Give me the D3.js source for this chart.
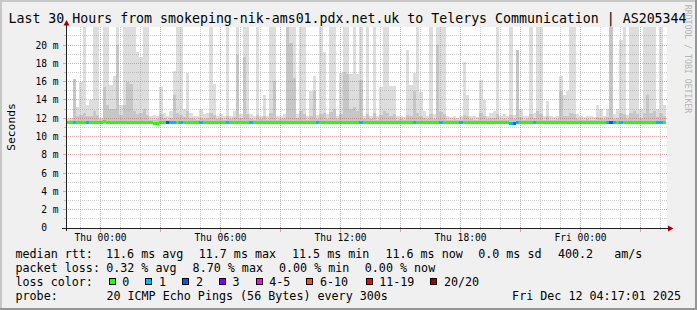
<!DOCTYPE html>
<html>
<head>
<meta charset="utf-8">
<script src="https://cdn.jsdelivr.net/npm/d3@7"></script>
<style>
  body { margin: 0; background: #f0f0f0; }
  svg text { font-family: "DejaVu Sans Mono", monospace; white-space: pre; }
</style>
</head>
<body>
<div id="chart"></div>
<script>
// smokeping graph, last 30 hours, 10 minute buckets (ms)
var titleText = "Last 30 Hours from smokeping-nik-ams01.pdx.net.uk to Telerys Communication | AS205344";
var endTime = new Date(Date.UTC(2025, 11, 12, 4, 17, 1));
var spanHours = 30;
var stepMinutes = 10;

var medianRtt = [
  11.6,11.6,11.6,11.6,11.6,11.6,11.6,11.6,11.6,11.6, 11.6,11.7,11.6,11.6,11.6,11.6,11.6,11.6,11.6,11.6,
  11.6,11.6,11.6,11.6,11.6,11.6,11.5,11.5,11.6,11.6, 11.6,11.6,11.6,11.6,11.6,11.6,11.6,11.6,11.6,11.6,
  11.6,11.6,11.6,11.6,11.6,11.6,11.6,11.6,11.6,11.6, 11.6,11.6,11.6,11.6,11.6,11.6,11.6,11.6,11.6,11.6,
  11.6,11.6,11.6,11.6,11.6,11.6,11.6,11.6,11.6,11.6, 11.6,11.6,11.6,11.6,11.6,11.6,11.6,11.6,11.6,11.6,
  11.6,11.6,11.6,11.6,11.6,11.6,11.6,11.6,11.6,11.6, 11.6,11.6,11.6,11.6,11.6,11.6,11.6,11.6,11.6,11.6,
  11.6,11.6,11.6,11.6,11.6,11.6,11.6,11.6,11.6,11.6, 11.6,11.6,11.6,11.6,11.6,11.6,11.6,11.6,11.6,11.6,
  11.6,11.6,11.6,11.6,11.6,11.6,11.6,11.6,11.6,11.6, 11.6,11.6,11.6,11.5,11.5,11.6,11.6,11.6,11.6,11.6,
  11.6,11.6,11.6,11.6,11.6,11.6,11.6,11.6,11.6,11.6, 11.6,11.6,11.6,11.6,11.6,11.6,11.6,11.6,11.6,11.6,
  11.6,11.6,11.6,11.6,11.6,11.6,11.6,11.6,11.6,11.6, 11.6,11.6,11.6,11.6,11.6,11.6,11.6,11.6,11.6,11.6
];
// outer smoke (slowest ping), 24 = off the top
var smokeMax = [
  11.9,12.0,16.3,13.2,16.0,24,13.4,14.0,24,24, 12.0,24,24,15.6,16.6,24,13.4,24,24,24,
  24,19.2,18.7,24,24,12.2,12.4,12.3,15.4,12.6, 12.2,12.8,17.2,24,24,13.0,17.0,12.6,12.3,12.2,
  13.0,12.5,12.6,24,15.7,12.3,12.5,12.2,24,12.3, 12.8,24,12.5,24,24,12.5,12.3,24,12.3,14.5,
  12.2,24,24,12.2,12.3,12.5,24,24,24,12.5, 24,24,12.2,15.0,16.6,12.4,24,19.3,12.5,24,
  24,12.3,17.0,24,24,16.8,24,16.8,24,12.3, 24,12.3,24,12.2,15.4,24,24,15.5,15.5,12.2,
  12.3,12.1,19.5,15.6,17.0,24,14.9,12.8,12.3,24, 12.5,24,24,24,12.2,12.1,12.3,12.0,12.2,18.2,
  14.5,12.3,12.2,12.1,16.2,14.0,12.3,12.6,12.8,24, 12.2,12.5,12.2,24,12.4,19.5,13.0,12.2,12.3,24,
  12.6,24,24,12.2,13.9,12.2,12.1,12.3,16.6,14.5, 15.0,24,24,12.5,12.2,12.1,12.3,12.2,12.1,13.4,
  13.0,12.3,13.0,24,12.5,13.0,20.6,24,12.4,24, 24,24,13.0,24,24,24,24,13.0,24,13.5
];
// inner smoke (middle pings)
var smokeMid = [
  11.7,11.8,16.3,12.2,12.4,12.6,12.2,12.3,12.8,12.4, 11.8,15.4,13.5,13.0,13.0,20.0,12.4,13.4,16.0,15.7,
  12.8,12.5,12.6,13.0,12.4,11.8,11.8,11.9,12.5,12.0, 11.8,12.0,14.5,12.6,12.4,12.1,12.8,12.0,11.9,11.8,
  12.0,11.9,12.0,12.6,12.4,11.9,12.0,11.8,12.3,11.9, 12.1,18.9,12.0,18.7,12.5,11.9,11.8,12.4,11.9,12.3,
  11.8,12.6,16.1,11.8,11.9,12.0,24,20.2,16.4,12.0, 12.8,12.5,11.8,12.3,15.0,11.9,12.5,12.6,11.9,12.7,
  13.0,11.9,12.5,17.1,16.8,13.0,13.2,12.8,16.2,11.9, 12.5,11.9,12.6,11.8,12.4,12.8,12.6,12.3,12.5,11.8,
  11.9,11.8,12.4,12.3,15.0,12.6,12.2,12.0,11.9,12.5, 11.9,20.0,12.7,12.5,11.8,11.8,11.9,11.8,11.8,12.4,
  12.2,11.9,11.8,11.8,12.6,12.2,11.9,12.0,12.0,12.5, 11.8,11.9,11.8,12.4,11.9,19.5,12.1,11.8,11.9,12.5,
  12.0,12.8,12.5,11.8,12.2,11.8,11.8,11.9,15.0,12.2, 12.3,12.6,12.5,11.9,11.8,11.8,11.9,11.8,11.8,12.1,
  12.0,11.9,12.1,24,11.9,12.0,12.6,12.5,11.9,12.6, 12.8,12.5,12.0,12.6,14.5,12.6,12.8,12.1,12.6,12.2
];
// lost pings out of 20
var lossCount = [
  0,0,1,0,0,0,1,0,0,0, 0,0,0,0,0,0,0,0,0,0,
  0,0,0,0,0,0,0,0,0,0, 2,1,1,0,1,0,0,0,0,0,
  1,0,0,0,0,0,0,0,1,0, 0,0,0,0,0,1,0,0,0,0,
  0,0,0,0,0,0,0,0,0,0, 0,0,0,0,0,1,0,0,0,0,
  0,0,0,0,0,0,0,0,1,0, 0,0,0,0,0,0,0,0,0,0,
  0,0,0,0,1,0,0,0,0,0, 0,0,1,0,0,0,0,0,1,0,
  0,0,0,0,0,0,0,0,0,0, 0,0,0,1,2,1,0,0,0,0,
  1,0,0,0,0,0,0,0,0,0, 0,0,0,0,0,0,0,0,0,0,
  0,0,1,2,1,0,1,0,0,0, 0,0,0,0,0,0,0,1,1,0
];
var lossLabels = ["0", "1", "2", "3", "4-5", "6-10", "11-19", "20/20"];
var lossColors = ["#26ff00", "#00b8ff", "#0059ff", "#7e00ff", "#ff00ff", "#ff5500", "#ff0000", "#a10000"];
var rttStats = ["11.6 ms avg", "11.7 ms max", "11.5 ms min", "11.6 ms now", "0.0 ms sd", "400.2   am/s"];
var lossStats = ["0.32 % avg", "8.70 % max", "0.00 % min", "0.00 % now"];
var probeText = "20 ICMP Echo Pings (56 Bytes) every 300s";
var stampText = "Fri Dec 12 04:17:01 2025";

var width = 697, height = 310;
var plotLeft = 66, plotRight = 666, plotTop = 27, plotBottom = 228;

var svg = d3.select("#chart").append("svg")
  .attr("width", width)
  .attr("height", height);

// background + frame
svg.append("rect").attr("width", width).attr("height", height).attr("fill", "#f0f0f0");
svg.append("rect").attr("x", 0).attr("y", 0).attr("width", width).attr("height", 2).attr("fill", "#c8c8c8");
svg.append("rect").attr("x", 0).attr("y", 0).attr("width", 2).attr("height", height).attr("fill", "#c8c8c8");
svg.append("rect").attr("x", 0).attr("y", height - 2).attr("width", width).attr("height", 2).attr("fill", "#969696");
svg.append("rect").attr("x", width - 2).attr("y", 0).attr("width", 2).attr("height", height).attr("fill", "#969696");

var startTime = new Date(+endTime - spanHours * 3600e3);
var x = d3.scaleUtc().domain([startTime, endTime]).range([plotLeft, plotRight]);
var y = d3.scaleLinear().domain([0, 21.87]).range([plotBottom, 28]);

svg.append("rect").attr("x", plotLeft).attr("y", plotTop)
  .attr("width", plotRight - plotLeft + 1).attr("height", plotBottom - plotTop)
  .attr("fill", "#ffffff");

svg.append("clipPath").attr("id", "plotclip")
  .append("rect").attr("x", plotLeft).attr("y", plotTop)
  .attr("width", plotRight - plotLeft + 1).attr("height", plotBottom - plotTop);

var samples = medianRtt.map(function (m, i) {
  return {
    t0: d3.utcMinute.offset(startTime, i * stepMinutes),
    t1: d3.utcMinute.offset(startTime, (i + 1) * stepMinutes),
    med: m, hi: smokeMax[i], mid: smokeMid[i], loss: lossCount[i]
  };
});

function lossClass(n) {
  if (n <= 3) return n;
  if (n <= 5) return 4;
  if (n <= 10) return 5;
  if (n < 20) return 6;
  return 7;
}

var plot = svg.append("g").attr("clip-path", "url(#plotclip)").attr("shape-rendering", "crispEdges");

plot.selectAll(".smoke").data(samples).enter().append("rect")
  .attr("class", "smoke")
  .attr("x", d => x(d.t0))
  .attr("width", d => x(d.t1) - x(d.t0))
  .attr("y", d => y(d.hi))
  .attr("height", d => Math.max(0, y(d.med) - y(d.hi)))
  .attr("fill", "#dddddd");

plot.selectAll(".smoke2").data(samples).enter().append("rect")
  .attr("class", "smoke2")
  .attr("x", d => x(d.t0))
  .attr("width", d => x(d.t1) - x(d.t0))
  .attr("y", d => y(d.mid))
  .attr("height", d => Math.max(0, y(d.med) - y(d.mid)))
  .attr("fill", "#c6c6c6");

plot.selectAll(".median").data(samples).enter().append("rect")
  .attr("class", "median")
  .attr("x", d => x(d.t0))
  .attr("width", d => x(d.t1) - x(d.t0))
  .attr("y", d => y(d.med) - 0.9)
  .attr("height", 2.6)
  .attr("fill", d => lossColors[lossClass(d.loss)]);

// grid
var minorCol = "rgba(140,140,140,0.42)";
var majorCol = "rgba(222,80,80,0.5)";
var grid = svg.append("g").attr("shape-rendering", "crispEdges");

var hours = x.ticks(d3.utcHour.every(1));
grid.selectAll(".vgrid").data(hours).enter().append("line")
  .attr("x1", d => Math.floor(x(d)) + 0.5).attr("x2", d => Math.floor(x(d)) + 0.5)
  .attr("y1", plotTop).attr("y2", plotBottom)
  .attr("stroke", d => d.getUTCHours() % 3 === 0 ? majorCol : minorCol)
  .attr("stroke-dasharray", "1,1");
grid.selectAll(".vtick").data(hours).enter().append("line")
  .attr("x1", d => Math.floor(x(d)) + 0.5).attr("x2", d => Math.floor(x(d)) + 0.5)
  .attr("y1", plotBottom - 1).attr("y2", d => d.getUTCHours() % 3 === 0 ? plotBottom + 4 : plotBottom + 2)
  .attr("stroke", d => d.getUTCHours() % 3 === 0 ? majorCol : minorCol);

var yTicks = y.ticks(22).filter(v => v > 0);
grid.selectAll(".hgrid").data(yTicks).enter().append("line")
  .attr("x1", plotLeft).attr("x2", plotRight + 1)
  .attr("y1", d => Math.floor(y(d)) + 0.5).attr("y2", d => Math.floor(y(d)) + 0.5)
  .attr("stroke", d => d % 2 === 0 ? majorCol : minorCol)
  .attr("stroke-dasharray", "1,1");
grid.selectAll(".htick").data(yTicks).enter().append("line")
  .attr("x1", d => d % 2 === 0 ? plotLeft - 3 : plotLeft - 2).attr("x2", plotLeft + 1)
  .attr("y1", d => Math.floor(y(d)) + 0.5).attr("y2", d => Math.floor(y(d)) + 0.5)
  .attr("stroke", d => d % 2 === 0 ? majorCol : minorCol);

// axes
var axisCol = "#202020", arrowCol = "#a00000";
svg.append("line").attr("x1", plotLeft - 4).attr("x2", plotRight + 4)
  .attr("y1", plotBottom + 0.5).attr("y2", plotBottom + 0.5)
  .attr("stroke", axisCol).attr("shape-rendering", "crispEdges");
svg.append("line").attr("x1", plotLeft + 0.5).attr("x2", plotLeft + 0.5)
  .attr("y1", plotBottom + 3).attr("y2", 24)
  .attr("stroke", axisCol).attr("shape-rendering", "crispEdges");
svg.append("path").attr("d", "M668,225.5 L673.5,228.5 L668,231.5 Z").attr("fill", arrowCol);
svg.append("path").attr("d", "M63.5,25.5 L66.5,20 L69.5,25.5 Z").attr("fill", arrowCol);

// axis labels
var labelSize = "9.6px";
svg.selectAll(".ylab").data(y.ticks(22).filter(v => v % 2 === 0)).enter().append("text")
  .attr("x", 58.5).attr("y", d => y(d) + 3.4)
  .attr("text-anchor", "end")
  .style("font-size", labelSize)
  .text(d => d === 0 ? "0  " : d + " m");

svg.selectAll(".xlab").data(hours.filter(d => d.getUTCHours() % 6 === 0)).enter().append("text")
  .attr("x", d => Math.floor(x(d)) + 0.5).attr("y", 240.7)
  .attr("text-anchor", "middle")
  .style("font-size", labelSize)
  .text(d => d3.utcFormat("%a %H:%M")(d));

svg.append("text")
  .attr("transform", "translate(15.3,127) rotate(-90)")
  .attr("text-anchor", "middle")
  .style("font-size", "11.3px")
  .text("Seconds");

svg.append("text")
  .attr("x", 347.5).attr("y", 23.3)
  .attr("text-anchor", "middle")
  .style("font-size", "13.25px")
  .text(titleText);

svg.append("text")
  .attr("transform", "translate(685,59) rotate(90)")
  .attr("text-anchor", "middle")
  .style("font-size", "8.2px")
  .attr("fill", "#b4b4b4")
  .text("RRDTOOL / TOBI OETIKER");

// legend
var legSize = "11.7px";
var legend = svg.append("g").style("font-size", legSize);
var rttX = [106, 198.7, 292, 385.4, 478.2, 557.9];
var lossX = [106.2, 192.6, 279, 364.8];
var boxX = [109, 145.7, 182.7, 219.3, 256, 306.7, 366, 430.7];

legend.append("text").attr("x", 15.5).attr("y", 257.8).text("median rtt:");
legend.selectAll(".rtt").data(rttStats).enter().append("text")
  .attr("x", (d, i) => rttX[i]).attr("y", 257.8).text(d => d);

legend.append("text").attr("x", 15.5).attr("y", 271.8).text("packet loss:");
legend.selectAll(".ls").data(lossStats).enter().append("text")
  .attr("x", (d, i) => lossX[i]).attr("y", 271.8).text(d => d);

legend.append("text").attr("x", 15.5).attr("y", 285.9).text("loss color:");
legend.selectAll(".lbox").data(lossLabels).enter().append("rect")
  .attr("x", (d, i) => Math.floor(boxX[i]) + 0.5).attr("y", 278.5)
  .attr("width", 6).attr("height", 6)
  .attr("fill", (d, i) => lossColors[i])
  .attr("stroke", "#000").attr("shape-rendering", "crispEdges");
legend.selectAll(".llab").data(lossLabels).enter().append("text")
  .attr("x", (d, i) => boxX[i] + 13.2).attr("y", 285.9).text(d => d);

legend.append("text").attr("x", 15.5).attr("y", 300).text("probe:");
legend.append("text").attr("x", 106.4).attr("y", 300).text(probeText);
legend.append("text").attr("x", 681).attr("y", 300).attr("text-anchor", "end").text(stampText);
</script>
</body>
</html>
